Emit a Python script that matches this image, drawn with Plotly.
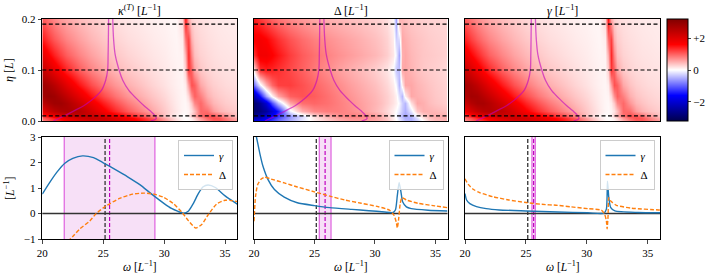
import plotly.graph_objects as go

# ---------------- data ----------------
OMEGA_GRID = [20, 20.5, 21, 21.5, 22, 23, 24, 25, 26, 27, 28, 29, 30, 30.5, 31, 31.5,
              31.75, 32, 32.25, 32.5, 33, 33.5, 34, 34.5, 35, 36]
ETA_GRID = [0.0, 0.005, 0.01, 0.02, 0.035, 0.05, 0.07, 0.1, 0.13, 0.16, 0.2]

KAPPA_Z = [
    [0.8, 1.0, 1.2, 1.4, 1.6, 1.9, 2.1, 2.15, 2.0, 1.8, 1.55, 1.2, 0.72, 0.46, 0.22, 0.06, 0.02, 0.03, 0.08, 0.2, 0.5, 0.8, 1.0, 1.05, 0.9, 0.6],
    [1.0, 1.2, 1.45, 1.65, 1.85, 2.15, 2.3, 2.25, 2.0, 1.75, 1.42, 1.06, 0.6, 0.38, 0.18, 0.05, 0.02, 0.04, 0.12, 0.28, 0.65, 0.95, 1.1, 1.05, 0.85, 0.5],
    [1.3, 1.55, 1.8, 2.0, 2.15, 2.35, 2.3, 2.08, 1.78, 1.48, 1.15, 0.8, 0.38, 0.22, 0.1, 0.02, 0.02, 0.1, 0.3, 0.5, 0.88, 1.1, 1.07, 0.9, 0.69, 0.37],
    [1.9, 2.2, 2.45, 2.6, 2.65, 2.5, 2.12, 1.7, 1.35, 1.05, 0.79, 0.55, 0.34, 0.24, 0.14, 0.06, 0.04, 0.07, 0.18, 0.4, 0.95, 0.9, 0.62, 0.48, 0.4, 0.3],
    [2.4, 2.65, 2.8, 2.8, 2.65, 2.22, 1.8, 1.42, 1.1, 0.84, 0.63, 0.44, 0.29, 0.2, 0.12, 0.06, 0.05, 0.12, 0.35, 0.75, 0.95, 0.65, 0.46, 0.38, 0.32, 0.26],
    [2.75, 2.88, 2.8, 2.6, 2.38, 1.9, 1.48, 1.14, 0.88, 0.67, 0.5, 0.36, 0.24, 0.17, 0.11, 0.06, 0.07, 0.25, 0.7, 1.0, 0.8, 0.5, 0.38, 0.32, 0.28, 0.23],
    [2.85, 2.7, 2.48, 2.22, 1.95, 1.48, 1.12, 0.86, 0.66, 0.5, 0.38, 0.27, 0.18, 0.13, 0.09, 0.06, 0.12, 0.6, 1.1, 1.0, 0.55, 0.38, 0.3, 0.26, 0.23, 0.2],
    [2.35, 2.1, 1.84, 1.6, 1.38, 1.02, 0.77, 0.59, 0.45, 0.35, 0.27, 0.2, 0.14, 0.11, 0.08, 0.07, 0.3, 1.25, 1.0, 0.55, 0.35, 0.27, 0.23, 0.21, 0.19, 0.17],
    [1.9, 1.64, 1.4, 1.2, 1.02, 0.77, 0.59, 0.45, 0.35, 0.27, 0.21, 0.16, 0.12, 0.09, 0.07, 0.08, 0.5, 1.35, 0.75, 0.4, 0.28, 0.23, 0.2, 0.18, 0.17, 0.15],
    [1.45, 1.23, 1.04, 0.9, 0.77, 0.59, 0.45, 0.35, 0.27, 0.21, 0.17, 0.13, 0.1, 0.08, 0.06, 0.12, 0.9, 1.2, 0.5, 0.32, 0.24, 0.2, 0.18, 0.16, 0.15, 0.13],
    [1.05, 0.88, 0.74, 0.63, 0.55, 0.42, 0.33, 0.26, 0.2, 0.16, 0.13, 0.1, 0.08, 0.06, 0.06, 0.25, 1.5, 0.55, 0.3, 0.24, 0.2, 0.17, 0.15, 0.14, 0.13, 0.12],
]

DELTA_Z = [
    [-1.8, -1.6, -1.4, -1.15, -0.9, -0.5, -0.15, 0.12, 0.32, 0.5, 0.6, 0.62, 0.55, 0.47, 0.36, 0.15, 0.03, -0.12, -0.28, -0.42, -0.5, -0.3, 0.0, 0.3, 0.42, 0.45],
    [-2.3, -2.1, -1.8, -1.45, -1.1, -0.6, -0.2, 0.15, 0.4, 0.6, 0.7, 0.7, 0.6, 0.5, 0.36, 0.12, 0.0, -0.2, -0.35, -0.5, -0.5, -0.2, 0.15, 0.38, 0.48, 0.5],
    [-2.6, -2.35, -2.0, -1.6, -1.25, -0.65, -0.25, 0.22, 0.5, 0.7, 0.8, 0.77, 0.63, 0.5, 0.33, 0.1, -0.05, -0.29, -0.45, -0.57, -0.42, -0.03, 0.28, 0.45, 0.52, 0.5],
    [-2.9, -2.75, -2.5, -2.0, -1.45, -0.1, 0.5, 0.75, 0.82, 0.8, 0.72, 0.6, 0.45, 0.36, 0.24, 0.1, 0.0, -0.15, -0.35, -0.5, -0.15, 0.35, 0.5, 0.48, 0.45, 0.38],
    [-2.9, -2.55, -2.0, -1.1, -0.4, 0.55, 0.9, 0.96, 0.9, 0.8, 0.7, 0.58, 0.47, 0.4, 0.3, 0.18, 0.1, -0.05, -0.3, -0.45, 0.2, 0.55, 0.5, 0.42, 0.37, 0.3],
    [-2.3, -1.5, -0.6, 0.05, 0.55, 1.0, 1.08, 1.02, 0.9, 0.78, 0.66, 0.55, 0.45, 0.38, 0.3, 0.18, 0.08, -0.2, -0.45, 0.1, 0.55, 0.5, 0.45, 0.4, 0.35, 0.28],
    [-0.9, -0.1, 0.5, 0.95, 1.2, 1.22, 1.1, 0.97, 0.84, 0.72, 0.6, 0.5, 0.4, 0.33, 0.25, 0.12, -0.05, -0.45, 0.1, 0.55, 0.55, 0.47, 0.42, 0.37, 0.33, 0.27],
    [0.2, 1.3, 1.42, 1.38, 1.3, 1.15, 1.0, 0.85, 0.72, 0.6, 0.5, 0.41, 0.31, 0.24, 0.17, 0.0, -0.35, -0.4, 0.55, 0.55, 0.47, 0.4, 0.35, 0.32, 0.3, 0.23],
    [1.3, 1.75, 1.75, 1.62, 1.48, 1.22, 1.03, 0.9, 0.78, 0.69, 0.61, 0.53, 0.45, 0.39, 0.31, 0.16, -0.1, -0.55, 0.5, 0.55, 0.45, 0.4, 0.36, 0.34, 0.32, 0.28],
    [1.65, 1.7, 1.6, 1.45, 1.3, 1.08, 0.92, 0.8, 0.7, 0.62, 0.55, 0.48, 0.4, 0.35, 0.28, 0.12, -0.3, -0.2, 0.55, 0.5, 0.42, 0.38, 0.35, 0.32, 0.3, 0.27],
    [1.45, 1.25, 1.1, 0.98, 0.88, 0.74, 0.64, 0.56, 0.5, 0.45, 0.4, 0.35, 0.3, 0.26, 0.2, 0.05, -0.6, 0.5, 0.45, 0.4, 0.35, 0.32, 0.3, 0.28, 0.27, 0.25],
]

GAMMA_Z = [
    [0.7, 0.9, 1.1, 1.3, 1.5, 1.8, 2.0, 2.05, 1.95, 1.75, 1.5, 1.15, 0.7, 0.45, 0.22, 0.06, 0.02, 0.03, 0.08, 0.2, 0.5, 0.8, 1.0, 1.05, 0.9, 0.6],
    [0.9, 1.1, 1.35, 1.55, 1.75, 2.05, 2.2, 2.15, 1.95, 1.7, 1.4, 1.05, 0.6, 0.38, 0.18, 0.05, 0.02, 0.04, 0.12, 0.28, 0.65, 0.95, 1.1, 1.05, 0.85, 0.5],
    [1.2, 1.45, 1.7, 1.9, 2.05, 2.25, 2.2, 2.0, 1.73, 1.45, 1.14, 0.8, 0.38, 0.22, 0.1, 0.02, 0.02, 0.1, 0.3, 0.5, 0.88, 1.1, 1.07, 0.9, 0.69, 0.37],
    [1.8, 2.1, 2.35, 2.5, 2.55, 2.4, 2.05, 1.65, 1.32, 1.03, 0.78, 0.55, 0.34, 0.24, 0.14, 0.06, 0.04, 0.07, 0.18, 0.4, 0.95, 0.9, 0.62, 0.48, 0.4, 0.3],
    [2.3, 2.55, 2.7, 2.7, 2.55, 2.15, 1.75, 1.38, 1.08, 0.83, 0.62, 0.44, 0.29, 0.2, 0.12, 0.06, 0.05, 0.12, 0.35, 0.75, 0.95, 0.65, 0.46, 0.38, 0.32, 0.26],
    [2.6, 2.75, 2.7, 2.5, 2.3, 1.85, 1.45, 1.12, 0.86, 0.66, 0.5, 0.36, 0.24, 0.17, 0.11, 0.06, 0.07, 0.25, 0.7, 1.0, 0.8, 0.5, 0.38, 0.32, 0.28, 0.23],
    [2.75, 2.6, 2.4, 2.15, 1.9, 1.45, 1.1, 0.85, 0.65, 0.5, 0.38, 0.27, 0.18, 0.13, 0.09, 0.06, 0.12, 0.6, 1.1, 1.0, 0.55, 0.38, 0.3, 0.26, 0.23, 0.2],
    [2.3, 2.05, 1.8, 1.56, 1.35, 1.0, 0.76, 0.58, 0.45, 0.35, 0.27, 0.2, 0.14, 0.11, 0.08, 0.07, 0.3, 1.25, 1.0, 0.55, 0.35, 0.27, 0.23, 0.21, 0.19, 0.17],
    [1.85, 1.6, 1.38, 1.18, 1.0, 0.76, 0.58, 0.45, 0.35, 0.27, 0.21, 0.16, 0.12, 0.09, 0.07, 0.08, 0.5, 1.35, 0.75, 0.4, 0.28, 0.23, 0.2, 0.18, 0.17, 0.15],
    [1.4, 1.2, 1.02, 0.88, 0.76, 0.58, 0.45, 0.35, 0.27, 0.21, 0.17, 0.13, 0.1, 0.08, 0.06, 0.12, 0.9, 1.2, 0.5, 0.32, 0.24, 0.2, 0.18, 0.16, 0.15, 0.13],
    [1.0, 0.85, 0.72, 0.62, 0.54, 0.42, 0.33, 0.26, 0.2, 0.16, 0.13, 0.1, 0.08, 0.06, 0.06, 0.25, 1.5, 0.55, 0.3, 0.24, 0.2, 0.17, 0.15, 0.14, 0.13, 0.12],
]

# boundary curves of the band (magenta) in the (omega, eta) plane
BOUND_ETA = [0.2, 0.16, 0.13, 0.1, 0.08, 0.06, 0.04, 0.03, 0.02, 0.01, 0.005, 0.0]
BOUND_LEFT = [25.44, 25.42, 25.4, 25.36, 25.2, 24.85, 24.0, 23.4, 22.6, 21.8, 21.35, 20.9]
BOUND_RIGHT = [25.78, 25.85, 25.98, 26.3, 26.6, 27.1, 27.9, 28.35, 28.85, 29.25, 29.35, 28.9]

CUT_ETAS = [0.19, 0.1, 0.01]
BAND_LO = [21.8, 25.4, 25.49]
BAND_HI = [29.24, 26.37, 25.77]
BAND_MID = [25.52, 25.88, 25.63]
REF_OMEGA = 25.15

# panel 1 (eta = 0.01)
P1_GW = [20, 20.6, 21.2, 21.85, 22.5, 23.3, 24.2, 25, 26, 27, 28, 29, 30, 30.6, 31.1, 31.6, 32.0, 32.4, 32.8, 33.2, 33.6, 34.2, 35, 36]
P1_G = [0.76, 1.21, 1.62, 1.97, 2.16, 2.26, 2.19, 1.99, 1.72, 1.44, 1.13, 0.75, 0.39, 0.2, 0.09, 0.01, 0.1, 0.4, 0.78, 1.05, 1.12, 1.02, 0.69, 0.37]
P1_DW = [20, 21, 22, 22.5, 23.07, 23.9, 24.43, 25.24, 26.33, 27.42, 28.34, 29.16, 29.97, 30.8, 31.47, 32.0, 32.6, 33.1, 33.64, 34.3, 35, 36]
P1_D = [-2.4, -1.8, -1.15, -0.9, -0.61, -0.29, 0.0, 0.30, 0.59, 0.76, 0.8, 0.76, 0.63, 0.37, 0.04, -0.29, -0.57, -0.42, -0.03, 0.37, 0.52, 0.47]
# panel 2 (eta = 0.1)
P2_GW = [20, 20.2, 20.48, 20.75, 21.16, 21.69, 22.5, 23.58, 25, 26.26, 28.1, 29.5, 30.8, 31.5, 31.7, 31.85, 32.0, 32.15, 32.3, 32.6, 33.0, 34.4, 36]
P2_G = [3.3, 3.0, 2.36, 1.84, 1.33, 0.94, 0.64, 0.42, 0.31, 0.23, 0.16, 0.11, 0.06, 0.04, 0.15, 0.7, 1.22, 0.85, 0.45, 0.26, 0.19, 0.13, 0.1]
P2_DW = [20, 20.13, 20.3, 20.6, 20.89, 21.42, 22.5, 23.58, 25, 26.26, 27.5, 28.87, 30.25, 31.2, 31.57, 31.77, 31.85, 31.96, 32.1, 32.24, 32.6, 33.56, 34.94, 36]
P2_D = [-0.3, 0.68, 1.13, 1.35, 1.42, 1.35, 1.2, 1.04, 0.85, 0.68, 0.53, 0.4, 0.27, 0.13, -0.06, -0.35, -0.57, -0.22, 0.42, 0.62, 0.53, 0.4, 0.3, 0.23]
# panel 3 (eta = 0.19)
P3_GW = [20, 20.13, 20.4, 20.94, 21.74, 22.8, 25, 27.6, 30.08, 31.4, 31.6, 31.69, 31.8, 31.96, 32.3, 34.2, 36]
P3_G = [0.78, 0.53, 0.39, 0.27, 0.19, 0.14, 0.10, 0.06, 0.03, 0.01, 0.17, 1.27, 0.62, 0.23, 0.1, 0.04, 0.03]
P3_DW = [20, 20.27, 20.67, 21.2, 22.27, 23.6, 25, 26.3, 27.6, 28.7, 30.08, 31.19, 31.46, 31.6, 31.66, 31.74, 31.8, 31.96, 32.43, 33.67, 35.88, 36]
P3_D = [1.36, 1.14, 0.95, 0.82, 0.66, 0.53, 0.43, 0.36, 0.32, 0.26, 0.19, 0.13, -0.03, -0.29, -0.6, -0.09, 0.62, 0.49, 0.32, 0.21, 0.14, 0.14]

TITLES = ["<i>κ</i><sup>(<i>T</i>)</sup> [<i>L</i><sup>−1</sup>]",
          "Δ [<i>L</i><sup>−1</sup>]",
          "<i>γ</i> [<i>L</i><sup>−1</sup>]"]

# ---------------- layout helpers ----------------
W, H = 706, 276
FONT = "Liberation Serif, DejaVu Serif, serif"
X_PX = [(42.3, 237.3), (254.0, 447.5), (465.0, 660.0)]
TOP_PX = (19, 121)
BOT_PX = (137, 239)


def xd(a, b):
    return [a / W, b / W]


def yd(t, b):
    return [1 - b / H, 1 - t / H]


def fnt(size):
    return dict(family=FONT, size=size, color="black")


SEISMIC = [[0.0, "rgb(0,0,77)"], [0.25, "rgb(0,0,255)"], [0.5, "rgb(255,255,255)"],
           [0.75, "rgb(255,0,0)"], [1.0, "rgb(128,0,0)"]]

fig = go.Figure()
layout = dict(width=W, height=H, margin=dict(l=0, r=0, t=0, b=0, autoexpand=False),
              paper_bgcolor="white", plot_bgcolor="white",
              font=fnt(11), showlegend=True)
shapes = []
annotations = []

fields = [KAPPA_Z, DELTA_Z, GAMMA_Z]
curves = [(P1_GW, P1_G, P1_DW, P1_D), (P2_GW, P2_G, P2_DW, P2_D), (P3_GW, P3_G, P3_DW, P3_D)]
legend_names = ["legend", "legend2", "legend3"]
legend_right = [233.0, 443.5, 654.5]

for i in range(3):
    tx = "x" if i == 0 else f"x{i+1}"
    ty = "y" if i == 0 else f"y{i+1}"
    bx = f"x{i+4}"
    by = f"y{i+4}"
    axis_common = dict(showline=True, mirror=True, linecolor="black", linewidth=1.1,
                       showgrid=False, zeroline=False)
    layout["xaxis" if i == 0 else f"xaxis{i+1}"] = dict(
        domain=xd(*X_PX[i]), range=[20, 36], anchor=ty, showticklabels=False, ticks="", **axis_common)
    layout["yaxis" if i == 0 else f"yaxis{i+1}"] = dict(
        domain=yd(*TOP_PX), range=[0, 0.2], anchor=tx,
        showticklabels=(i == 0), ticks="outside" if i == 0 else "", ticklen=3.5, tickwidth=1,
        tickvals=[0, 0.1, 0.2], ticktext=["0.0", "0.1", "0.2"], tickfont=fnt(11), **axis_common)
    layout[f"xaxis{i+4}"] = dict(
        domain=xd(*X_PX[i]), range=[20, 36], anchor=by, ticks="outside", ticklen=3.5, tickwidth=1,
        tickvals=[20, 25, 30, 35], ticktext=["20", "25", "30", "35"], tickfont=fnt(11), **axis_common)
    layout[f"yaxis{i+4}"] = dict(
        domain=yd(*BOT_PX), range=[-1, 3], anchor=bx,
        showticklabels=(i == 0), ticks="outside" if i == 0 else "", ticklen=3.5, tickwidth=1,
        tickvals=[-1, 0, 1, 2, 3], ticktext=["−1", "0", "1", "2", "3"], tickfont=fnt(11), **axis_common)

    fig.add_trace(go.Heatmap(x=OMEGA_GRID, y=ETA_GRID, z=fields[i], coloraxis="coloraxis",
                             zsmooth="best", xaxis=tx, yaxis=ty, showlegend=False, hoverinfo="skip"))
    for bw in (BOUND_LEFT, BOUND_RIGHT):
        fig.add_trace(go.Scatter(x=bw, y=BOUND_ETA, mode="lines", xaxis=tx, yaxis=ty,
                                 line=dict(color="rgba(191,0,191,0.6)", width=1.3, shape="spline"),
                                 showlegend=False, hoverinfo="skip"))
    for eta in CUT_ETAS:
        shapes.append(dict(type="line", xref=f"{tx} domain", yref=ty, x0=0, x1=1, y0=eta, y1=eta,
                           line=dict(color="black", width=1.1, dash="4px,2.5px"), layer="above"))

    # bottom panel decorations
    shapes.append(dict(type="rect", xref=bx, yref=f"{by} domain", x0=BAND_LO[i], x1=BAND_HI[i], y0=0, y1=1,
                       fillcolor="rgba(191,0,191,0.12)", line=dict(width=0), layer="below"))
    for xv in (BAND_LO[i], BAND_HI[i]):
        shapes.append(dict(type="line", xref=bx, yref=f"{by} domain", x0=xv, x1=xv, y0=0, y1=1,
                           line=dict(color="rgba(204,0,204,0.55)", width=1.3), layer="below"))
    shapes.append(dict(type="line", xref=bx, yref=f"{by} domain", x0=REF_OMEGA, x1=REF_OMEGA, y0=0, y1=1,
                       line=dict(color="#222222", width=1.2, dash="4px,2px"), layer="below"))
    shapes.append(dict(type="line", xref=bx, yref=f"{by} domain", x0=BAND_MID[i], x1=BAND_MID[i], y0=0, y1=1,
                       line=dict(color="#bf00bf", width=1.2, dash="4px,2px"), layer="below"))
    shapes.append(dict(type="line", xref=f"{bx} domain", yref=by, x0=0, x1=1, y0=0, y1=0,
                       line=dict(color="#333333", width=1.3), layer="below"))

    gw, g, dw, d = curves[i]
    fig.add_trace(go.Scatter(x=gw, y=g, mode="lines", name="<i>γ</i>", xaxis=bx, yaxis=by,
                             line=dict(color="#1f77b4", width=1.4, shape="spline", smoothing=0.6),
                             legend=legend_names[i], hoverinfo="skip"))
    fig.add_trace(go.Scatter(x=dw, y=d, mode="lines", name="Δ", xaxis=bx, yaxis=by,
                             line=dict(color="#ff7f0e", width=1.4, dash="4px,2px", shape="spline", smoothing=0.6),
                             legend=legend_names[i], hoverinfo="skip"))
    layout[legend_names[i]] = dict(x=legend_right[i] / W, xanchor="right", y=1 - 140 / H, yanchor="top",
                                   bgcolor="rgba(255,255,255,0.8)", bordercolor="#cccccc", borderwidth=1,
                                   font=fnt(11), itemwidth=30, tracegroupgap=0)

    cx = (X_PX[i][0] + X_PX[i][1]) / 2 / W
    annotations.append(dict(text=TITLES[i], x=cx, y=1 - 10 / H, xref="paper", yref="paper",
                            showarrow=False, xanchor="center", yanchor="middle", font=fnt(12)))
    annotations.append(dict(text="<i>ω</i> [<i>L</i><sup>−1</sup>]", x=cx, y=1 - 266 / H, xref="paper",
                            yref="paper", showarrow=False, xanchor="center", yanchor="middle",
                            font=fnt(11.5)))

annotations.append(dict(text="<i>η</i> [<i>L</i>]", x=9 / W, y=1 - 70 / H, xref="paper", yref="paper",
                        showarrow=False, textangle=-90, xanchor="center", yanchor="middle", font=fnt(12)))
annotations.append(dict(text="[<i>L</i><sup>−1</sup>]", x=9 / W, y=1 - 188 / H, xref="paper", yref="paper",
                        showarrow=False, textangle=-90, xanchor="center", yanchor="middle", font=fnt(12)))

layout["coloraxis"] = dict(colorscale=SEISMIC, cmin=-3.2, cmax=3.2,
                           colorbar=dict(x=667 / W, xanchor="left", y=1 - 19 / H, yanchor="top",
                                         len=102 / H, lenmode="fraction", thickness=21, thicknessmode="pixels",
                                         outlinecolor="black", outlinewidth=1, xpad=0, ypad=0,
                                         tickvals=[-2, 0, 2], ticktext=["−2", "0", "+2"], ticks="outside",
                                         ticklen=3, tickfont=fnt(11)))
layout["shapes"] = shapes
layout["annotations"] = annotations
fig.update_layout(**layout)
fig.write_html("out.html", config={"displayModeBar": False},
               post_script="document.body.style.margin='0px';document.body.style.overflow='hidden';")
